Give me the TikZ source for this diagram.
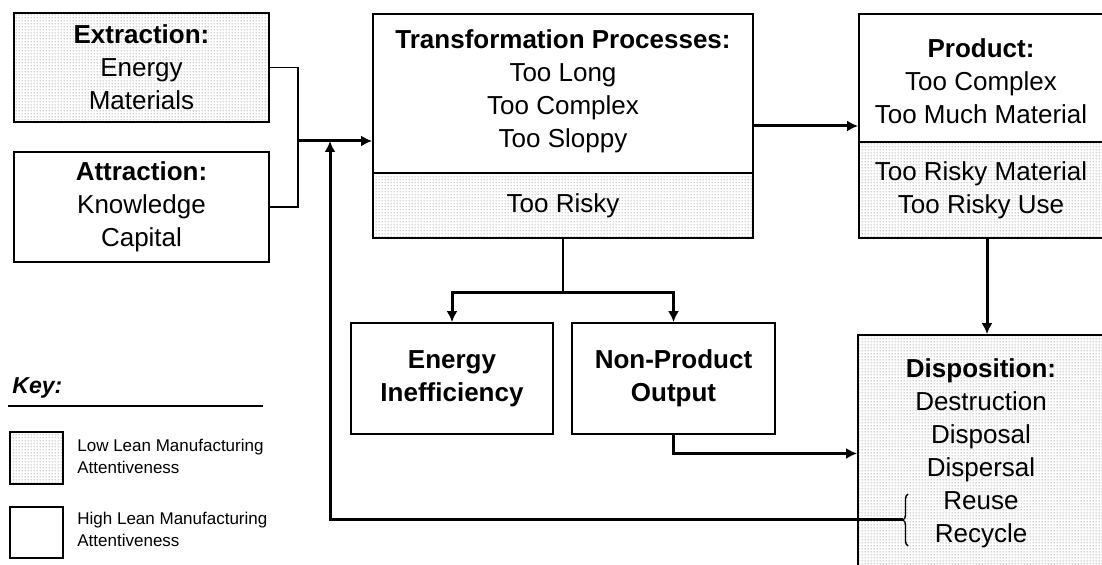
\documentclass[tikz,border=0pt]{standalone}
\usepackage{fontspec}
\setmainfont{Liberation Sans}
\usetikzlibrary{arrows.meta,positioning,calc,patterns.meta,decorations.pathreplacing}
\tikzdeclarepattern{
  name=finedots,
  type=uncolored,
  bounding box={(0pt,0pt) and (1.5pt,1.5pt)},
  tile size={(1.5pt,1.5pt)},
  code={\fill (0.75pt,0.75pt) circle (0.34pt);}
}
\tikzset{
  highbox/.style={draw=black,line width=0.9pt,align=center,inner sep=0pt,font=\fontsize{13}{16.5}\selectfont},
  lowbox/.style={highbox,pattern=finedots,pattern color=black!45},
  boxtext/.style={align=center,inner sep=0pt,font=\fontsize{13}{16.5}\selectfont},
  keytext/.style={align=left,anchor=west,inner sep=0pt,font=\fontsize{8.5}{11}\selectfont},
  link/.style={draw=black,line width=0.7pt},
  flow/.style={-{Latex[length=5.5pt,width=5.5pt]},draw=black,line width=1.5pt}
}

\begin{document}
\begin{tikzpicture}[x=0.5pt,y=-0.5pt]
  \useasboundingbox (0,0) rectangle (1102,565);
  \clip (0,0) rectangle (1102,565);
  % inputs
  \node[lowbox,minimum width=127.5pt,minimum height=54.5pt] (ext) at (141.5,67.5) {\textbf{Extraction:}\\Energy\\Materials};
  \node[highbox,minimum width=127.5pt,minimum height=55pt] (att) at (141.5,207) {\textbf{Attraction:}\\Knowledge\\Capital};
  % transformation
  \node[highbox,minimum width=190pt,minimum height=112pt] (trans) at (563,126) {};
  \node[lowbox,anchor=south,minimum width=190pt,minimum height=32.5pt] (transrisk) at (trans.south) {Too Risky};
  \node[boxtext] (transtext) at ([yshift=17.5pt]trans.center) {\textbf{Transformation Processes:}\\Too Long\\Too Complex\\Too Sloppy};
  % product
  \node[highbox,minimum width=122pt,minimum height=112pt] (prod) at (981,126) {};
  \node[lowbox,anchor=south,minimum width=122pt,minimum height=48pt] (prodrisk) at (prod.south) {Too Risky Material\\Too Risky Use};
  \node[boxtext] (prodtext) at ([yshift=22.5pt]prod.center) {\textbf{Product:}\\Too Complex\\Too Much Material};
  % wastes
  \node[highbox,minimum width=101pt,minimum height=55.5pt] (ineff) at (452,378.5) {\textbf{Energy}\\\textbf{Inefficiency}};
  \node[highbox,minimum width=101.5pt,minimum height=55.5pt] (npo) at (673.5,378.5) {\textbf{Non-Product}\\\textbf{Output}};
  % disposition
  \node[lowbox,minimum width=123pt,minimum height=118.5pt] (disp) at (981,453.5) {\textbf{Disposition:}\\Destruction\\Disposal\\Dispersal\\Reuse\\Recycle};
  % key
  \node[anchor=west,inner sep=0pt,font=\fontsize{11.5}{13}\selectfont\bfseries\itshape] (keytitle) at (12,388) {Key:};
  \draw[line width=1.2pt] (8,406) -- (263,406);
  \node[lowbox,minimum width=26.5pt,minimum height=26pt] (keylow) at (36.5,458) {};
  \node[keytext] (lowtext) at (77,456) {Low Lean Manufacturing\\Attentiveness};
  \node[highbox,minimum width=26.5pt,minimum height=25.5pt] (keyhigh) at (36.5,532.5) {};
  \node[keytext] (hightext) at (77,529) {High Lean Manufacturing\\Attentiveness};
  % connectors
  \coordinate (join) at (298,141);
  \coordinate (back) at (330,141);
  \draw[link] (ext.east) -| (join) |- (att.east);
  \draw[flow] (join) -- (join -| trans.west);
  \draw[flow] (trans.east) -- (prod.west);
  \draw[flow] ([xshift=3pt]prod.south) -- ([xshift=3pt]prod.south |- disp.north);
  \draw[link] (transrisk.south) -- ++(0,54) coordinate (split);
  \draw[flow] (split) -| (ineff.north);
  \draw[flow] (split) -| (npo.north);
  \draw[flow] (npo.south) |- (disp.west);
  \draw[link,decorate,decoration={brace,amplitude=2.5pt}] (908,546) -- (908,494);
  \coordinate (bracetip) at (903,520);
  \draw[flow] (bracetip) -| (back);
\end{tikzpicture}
\end{document}
